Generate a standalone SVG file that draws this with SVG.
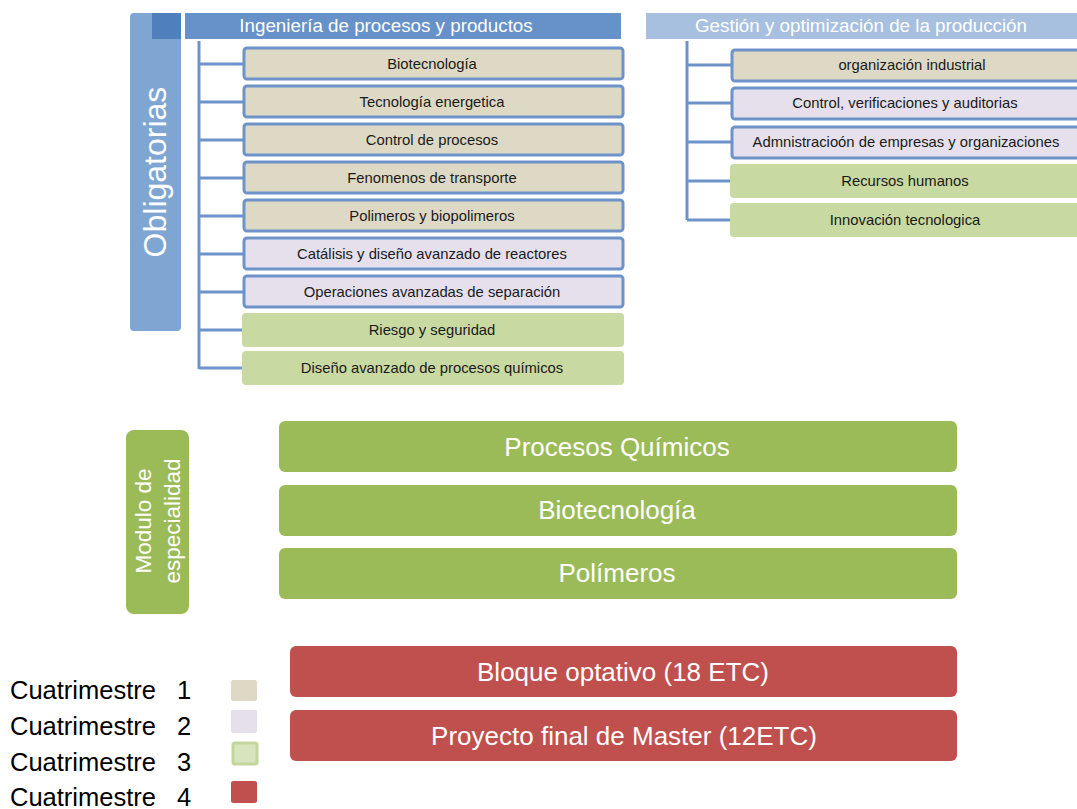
<svg xmlns="http://www.w3.org/2000/svg" width="1077" height="809" viewBox="0 0 1077 809">
<style>
text{font-family:"Liberation Sans",Arial,sans-serif;}
.t{font-size:14.8px;fill:#1a1a1a;text-anchor:middle;dominant-baseline:central;}
.w{fill:#fff;text-anchor:middle;dominant-baseline:central;}
.c1{fill:#ddd9c4;stroke:#6d93c9;stroke-width:3;}
.c2{fill:#e5e0ec;stroke:#6d93c9;stroke-width:3;}
.c3{fill:#c8d9a1;}
.g{fill:#9bbb59;}
.r{fill:#c0504d;}
.conn{stroke:#6d93c9;stroke-width:3;fill:none;}
.leg{font-size:25.5px;fill:#000;dominant-baseline:central;}
.big{font-size:26px;}
</style>
<g id="obligatorias">
<rect x="130" y="13" width="51" height="318" rx="4" fill="#7fa6d2"/>
<text class="w" font-size="32" transform="translate(155 172) rotate(-90)">Obligatorias</text>
</g>
<g id="header1">
<rect x="152" y="13" width="29" height="26" fill="#4f7fbd"/>
<rect x="185" y="13" width="436" height="26" fill="#6691c9"/>
<text class="w" x="386" y="25" font-size="18.8">Ingeniería de procesos y productos</text>
</g>
<g id="header2">
<rect x="646" y="13" width="431" height="26" fill="#a7c0e0"/>
<text class="w" x="861" y="25" font-size="18.8">Gestión y optimización de la producción</text>
</g>
<g id="connectors">
<path class="conn" d="M199 41V369 M199 64H243 M199 102H243 M199 140H243 M199 178H243 M199 216H243 M199 254H243 M199 292H243 M199 330H243 M199 368H243"/>
<path class="conn" d="M687 41V220 M687 65H731 M687 103H731 M687 142H731 M687 181H731 M687 220H731"/>
</g>
<g id="n1"><rect class="c1" x="244" y="48" width="379" height="31" rx="3"/><text class="t" x="432" y="64">Biotecnología</text></g>
<g id="n2"><rect class="c1" x="244" y="86" width="379" height="31" rx="3"/><text class="t" x="432" y="102">Tecnología energetica</text></g>
<g id="n3"><rect class="c1" x="244" y="124" width="379" height="31" rx="3"/><text class="t" x="432" y="140">Control de procesos</text></g>
<g id="n4"><rect class="c1" x="244" y="162" width="379" height="31" rx="3"/><text class="t" x="432" y="178">Fenomenos de transporte</text></g>
<g id="n5"><rect class="c1" x="244" y="200" width="379" height="31" rx="3"/><text class="t" x="432" y="216">Polimeros y biopolimeros</text></g>
<g id="n6"><rect class="c2" x="244" y="238" width="379" height="31" rx="3"/><text class="t" x="432" y="254">Catálisis y diseño avanzado de reactores</text></g>
<g id="n7"><rect class="c2" x="244" y="276" width="379" height="31" rx="3"/><text class="t" x="432" y="292">Operaciones avanzadas de separación</text></g>
<g id="n8"><rect class="c3" x="242" y="313" width="382" height="34" rx="4"/><text class="t" x="432" y="330">Riesgo y seguridad</text></g>
<g id="n9"><rect class="c3" x="242" y="351" width="382" height="34" rx="4"/><text class="t" x="432" y="368">Diseño avanzado de procesos químicos</text></g>
<g id="m1"><rect class="c1" x="732" y="50" width="350" height="31" rx="3"/><text class="t" x="912" y="65">organización industrial</text></g>
<g id="m2"><rect class="c2" x="732" y="88" width="350" height="31" rx="3"/><text class="t" x="905" y="103">Control, verificaciones y auditorias</text></g>
<g id="m3"><rect class="c2" x="732" y="127" width="350" height="31" rx="3"/><text class="t" x="906" y="142">Admnistracioón de empresas y organizaciones</text></g>
<g id="m4"><rect class="c3" x="730" y="164" width="352" height="34" rx="4"/><text class="t" x="905" y="181">Recursos humanos</text></g>
<g id="m5"><rect class="c3" x="730" y="203" width="352" height="34" rx="4"/><text class="t" x="905" y="220">Innovación tecnologica</text></g>
<g id="modulo">
<rect class="g" x="126" y="430" width="63" height="184" rx="8"/>
<text class="w" font-size="22.5" transform="translate(143 521) rotate(-90)">Modulo de</text>
<text class="w" font-size="22.5" transform="translate(172 521) rotate(-90)">especialidad</text>
</g>
<g id="e1"><rect class="g" x="279" y="421" width="678" height="51" rx="6"/><text class="w big" x="617" y="447">Procesos Químicos</text></g>
<g id="e2"><rect class="g" x="279" y="485" width="678" height="51" rx="6"/><text class="w big" x="617" y="510">Biotecnología</text></g>
<g id="e3"><rect class="g" x="279" y="548" width="678" height="51" rx="6"/><text class="w big" x="617" y="573">Polímeros</text></g>
<g id="b1"><rect class="r" x="290" y="646" width="667" height="51" rx="6"/><text class="w big" x="623" y="672">Bloque optativo (18 ETC)</text></g>
<g id="b2"><rect class="r" x="290" y="710" width="667" height="51" rx="6"/><text class="w big" x="624" y="736">Proyecto final de Master (12ETC)</text></g>
<g id="legend">
<text class="leg" x="10" y="690">Cuatrimestre <tspan x="177">1</tspan></text>
<text class="leg" x="10" y="726">Cuatrimestre <tspan x="177">2</tspan></text>
<text class="leg" x="10" y="762">Cuatrimestre <tspan x="177">3</tspan></text>
<text class="leg" x="10" y="797">Cuatrimestre <tspan x="177">4</tspan></text>
<rect x="231" y="680" width="26" height="21" rx="2" fill="#ddd9c4"/>
<rect x="231" y="710" width="26" height="23" rx="2" fill="#e5e0ec"/>
<rect x="233" y="743" width="24" height="21" rx="2" fill="#d7e4bd" stroke="#c3d69b" stroke-width="3"/>
<rect x="231" y="781" width="26" height="22" rx="2" fill="#c0504d"/>
</g>
</svg>
